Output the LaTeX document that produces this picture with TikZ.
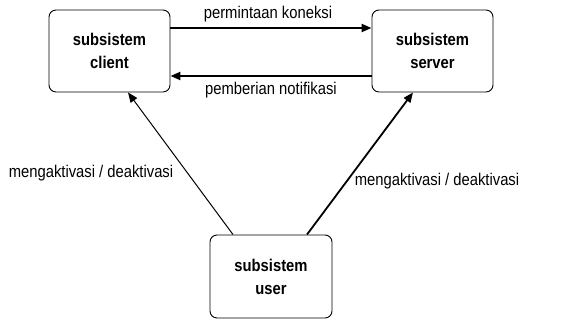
\documentclass[tikz,border=0pt]{standalone}
\usepackage{fontspec}
\setmainfont{Liberation Sans}
\newfontfamily\narrowsans[FakeStretch=0.87]{Liberation Sans}
\usetikzlibrary{arrows.meta}
\begin{document}
\begin{tikzpicture}[x=1pt,y=1pt,
  subsys/.style={draw=black, line width=0.9pt, rounded corners=7pt,
    minimum width=121pt, minimum height=82pt, align=center,
    font=\narrowsans\fontsize{17}{23}\selectfont\bfseries},
  lbl/.style={font=\narrowsans\fontsize{17}{18}\selectfont, inner sep=0pt},
  flow/.style={-{Triangle[length=10pt,width=8pt]}},
]
\useasboundingbox (0,0) rectangle (563,320);
\node[subsys] (client) at (109.5,269) {subsistem\\client};
\node[subsys] (server) at (432.5,269) {subsistem\\server};
\node[subsys, minimum width=122pt, minimum height=83pt] (user) at (271,43.5) {subsistem\\user};

% connection request and notification between client and server
\draw[flow, line width=2.2pt] ([yshift=23pt]client.east) -- ([yshift=23pt]server.west);
\draw[flow, line width=2.2pt] ([yshift=-25pt]server.west) -- ([yshift=-25pt]client.east);
\node[lbl] (req) at (268,306) {permintaan koneksi};
\node[lbl] (notif) at (271,230) {pemberian notifikasi};

% activation from the user subsystem
\draw[flow, line width=1pt] ([xshift=-38pt]user.north) -- ([xshift=18.5pt]client.south);
\draw[flow, line width=1.8pt] ([xshift=36pt]user.north) -- ([xshift=-19.5pt]server.south);
\node[lbl] (actl) at (91,147) {mengaktivasi / deaktivasi};
\node[lbl] (actr) at (437,139) {mengaktivasi / deaktivasi};
\end{tikzpicture}
\end{document}
